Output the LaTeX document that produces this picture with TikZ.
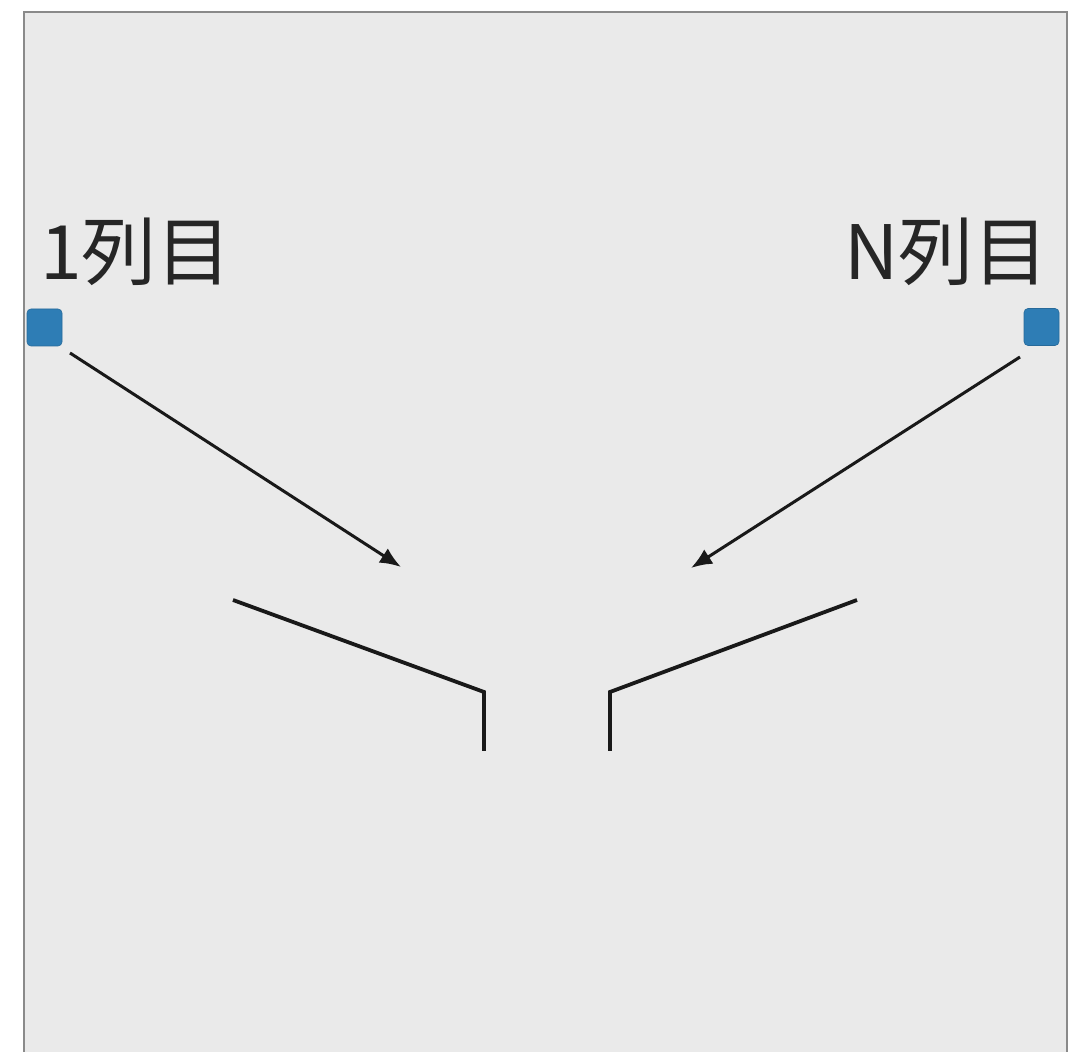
\documentclass[tikz,border=0pt]{standalone}
\usepackage{fontspec}
\newfontfamily\cjk{Noto Sans CJK JP}
\usetikzlibrary{arrows.meta}
\definecolor{bgc}{HTML}{EAEAEA}
\definecolor{framec}{HTML}{8A8A8A}
\definecolor{sqc}{HTML}{2E7DB5}
\tikzset{
  sq/.style={fill=sqc, draw=sqc!85!black, line width=0.6pt, rounded corners=4pt, minimum width=35pt, minimum height=37pt, inner sep=0pt},
  lbl/.style={font=\cjk\fontsize{75}{75}\selectfont, text=black!85, inner sep=0pt},
  arr/.style={line width=3pt, -{Latex[length=21pt,width=17pt]}, black!90},
  wall/.style={line width=3.8pt, black!90, line join=miter}
}
\begin{document}
\begin{tikzpicture}[x=1pt,y=1pt]
\useasboundingbox (0,0) rectangle (1080,1052);
\fill[white] (0,0) rectangle (1080,1052);
\fill[bgc] (24,-5) rectangle (1067,1040);
\draw[framec, line width=2pt] (24,-5) -- (24,1040) -- (1067,1040) -- (1067,-5);
% labels
\node[lbl, anchor=base west] (l1) at (40,772) {1列目};
\node[lbl, anchor=base east] (lN) at (1049,772) {N列目};
% squares
\node[sq] (s1) at (44.5,724.5) {};
\node[sq] (sN) at (1041.5,725) {};
% arrow end points
\coordinate (a1s) at (70,699);
\coordinate (a1e) at (401,485);
\coordinate (aNs) at (1020,695);
\coordinate (aNe) at (691,484);
\draw[arr] (a1s) -- (a1e);
\draw[arr] (aNs) -- (aNe);
% walls
\coordinate (w1a) at (233,452);
\coordinate (w1b) at (484,360);
\coordinate (w1c) at (484,301);
\coordinate (w2a) at (857,452);
\coordinate (w2b) at (610,360);
\coordinate (w2c) at (610,301);
\draw[wall] (w1a) -- (w1b) -- (w1c);
\draw[wall] (w2a) -- (w2b) -- (w2c);
\end{tikzpicture}
\end{document}
